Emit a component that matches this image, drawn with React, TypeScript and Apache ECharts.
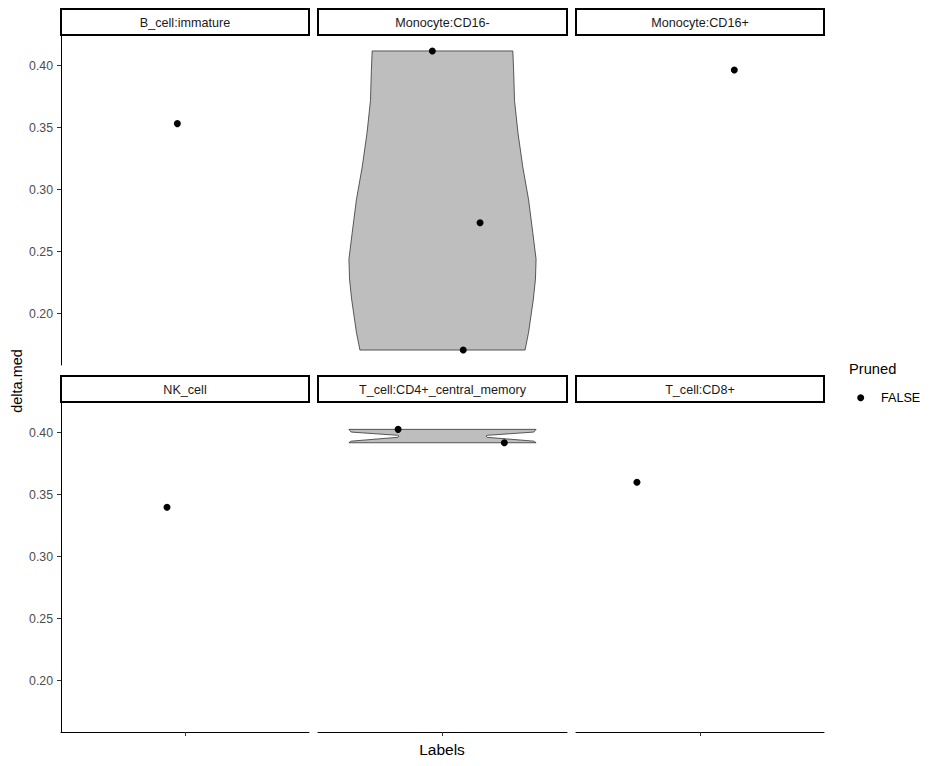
import React, { useEffect, useRef } from "react";
import * as echarts from "echarts";

// Facet labels (facet_wrap, 3 columns)
const panels = [
  "B_cell:immature",
  "Monocyte:CD16-",
  "Monocyte:CD16+",
  "NK_cell",
  "T_cell:CD4+_central_memory",
  "T_cell:CD8+",
];

// Jittered x positions around the single category (at 1) and delta.med values
const pointX = [[0.963], [0.951, 1.181, 1.1], [1.166], [0.913], [0.786, 1.298], [0.695]];
const pointY = [[0.3532], [0.4118, 0.2732, 0.1706], [0.3965], [0.3398], [0.4026, 0.3918], [0.3599]];

// Violin outlines: y and half-width (in category units)
const violinMonoY = [0.1706, 0.185, 0.2117, 0.2278, 0.2438, 0.2655, 0.2917, 0.3182, 0.3454, 0.3719, 0.395, 0.4118];
const violinMonoHW = [0.398, 0.415, 0.438, 0.448, 0.451, 0.435, 0.415, 0.387, 0.364, 0.347, 0.343, 0.339];
const violinCD4Y = [0.3918, 0.3931, 0.3962, 0.3972, 0.3978, 0.4004, 0.4026];
const violinCD4HW = [0.451, 0.44, 0.215, 0.21, 0.215, 0.44, 0.451];

const yTicks = [0.2, 0.25, 0.3, 0.35, 0.4];
const xTicks = [1];

const FONT = "'Liberation Sans', Arial, sans-serif";

export default function App() {
  const ref = useRef<HTMLDivElement>(null);
  useEffect(() => {
    document.body.style.margin = "0";
    const chart = echarts.init(ref.current!, null, { renderer: "svg" });

    const allY = pointY.flat();
    const yLo = Math.min(...allY);
    const yHi = Math.max(...allY);
    const pad = (yHi - yLo) * 0.05;
    const yMin = yLo - pad;
    const yMax = yHi + pad;

    const colLeft = [61, 318, 576];
    const colWidth = [248, 249, 248];
    const rowTop = [36, 403];
    const panelH = 329;

    const grids: any[] = [];
    const xAxes: any[] = [];
    const yAxes: any[] = [];
    const series: any[] = [];
    const graphic: any[] = [];

    panels.forEach((name, i) => {
      const r = Math.floor(i / 3);
      const c = i % 3;
      grids.push({ left: colLeft[c], top: rowTop[r], width: colWidth[c], height: panelH, containLabel: false });
      xAxes.push({
        gridIndex: i,
        type: "value",
        min: 0.4,
        max: 1.6,
        show: r === 1,
        axisLine: { show: true, onZero: false, lineStyle: { color: "#000", width: 1 } },
        axisTick: { show: true, customValues: xTicks, length: 4, lineStyle: { color: "#333333" } },
        axisLabel: { show: false },
        splitLine: { show: false },
      });
      yAxes.push({
        gridIndex: i,
        type: "value",
        min: yMin,
        max: yMax,
        show: c === 0,
        axisLine: { show: true, onZero: false, lineStyle: { color: "#000", width: 1 } },
        axisTick: { show: true, customValues: yTicks, length: 4, lineStyle: { color: "#333333" } },
        axisLabel: {
          show: true,
          customValues: yTicks,
          formatter: (v: number) => v.toFixed(2),
          color: "#4D4D4D",
          fontSize: 12.3,
          fontFamily: FONT,
          margin: 8,
        },
        splitLine: { show: false },
      });
      series.push({
        type: "scatter",
        name: "FALSE",
        xAxisIndex: i,
        yAxisIndex: i,
        z: 5,
        symbol: "circle",
        symbolSize: 7,
        itemStyle: { color: "#000", opacity: 1 },
        data: pointX[i].map((x, k) => [x, pointY[i][k]]),
      });
      // strip
      graphic.push({
        type: "rect",
        shape: { x: colLeft[c], y: rowTop[r] - 27, width: colWidth[c], height: 26 },
        style: { fill: "#fff", stroke: "#000", lineWidth: 2 },
      });
      graphic.push({
        type: "text",
        x: colLeft[c] + colWidth[c] / 2,
        y: rowTop[r] - 13.5,
        style: {
          text: name,
          fill: "#1A1A1A",
          font: `12.6px ${FONT}`,
          textAlign: "center",
          textVerticalAlign: "middle",
        },
      });
    });

    const violin = (idx: number, ys: number[], hws: number[]) => ({
      type: "custom",
      xAxisIndex: idx,
      yAxisIndex: idx,
      z: 2,
      silent: true,
      data: [[1, ys[0]]],
      renderItem: (_p: any, api: any) => {
        const right = ys.map((y, k) => api.coord([1 + hws[k], y]));
        const left = ys.map((y, k) => api.coord([1 - hws[k], y])).reverse();
        return {
          type: "polygon",
          shape: { points: right.concat(left) },
          style: { fill: "#BEBEBE", stroke: "#333333", lineWidth: 0.8 },
        };
      },
    });
    series.push(violin(1, violinMonoY, violinMonoHW));
    series.push(violin(4, violinCD4Y, violinCD4HW));

    // axis titles
    graphic.push({
      type: "text",
      x: 442,
      y: 749,
      style: { text: "Labels", fill: "#000", font: `15.5px ${FONT}`, textAlign: "center", textVerticalAlign: "middle" },
    });
    graphic.push({
      type: "text",
      x: 17,
      y: 381,
      rotation: Math.PI / 2,
      style: { text: "delta.med", fill: "#000", font: `14.5px ${FONT}`, textAlign: "center", textVerticalAlign: "middle" },
    });
    // legend
    graphic.push({
      type: "text",
      x: 849,
      y: 369,
      style: { text: "Pruned", fill: "#000", font: `14.7px ${FONT}`, textAlign: "left", textVerticalAlign: "middle" },
    });
    graphic.push({
      type: "circle",
      shape: { cx: 860.7, cy: 397.7, r: 3.5 },
      style: { fill: "#000" },
    });
    graphic.push({
      type: "text",
      x: 881,
      y: 398,
      style: { text: "FALSE", fill: "#000", font: `12.6px ${FONT}`, textAlign: "left", textVerticalAlign: "middle" },
    });

    chart.setOption({
      animation: false,
      backgroundColor: "#fff",
      grid: grids,
      xAxis: xAxes,
      yAxis: yAxes,
      series,
      graphic,
    });
    return () => chart.dispose();
  }, []);
  return <div ref={ref} style={{ width: 941, height: 766 }} />;
}
